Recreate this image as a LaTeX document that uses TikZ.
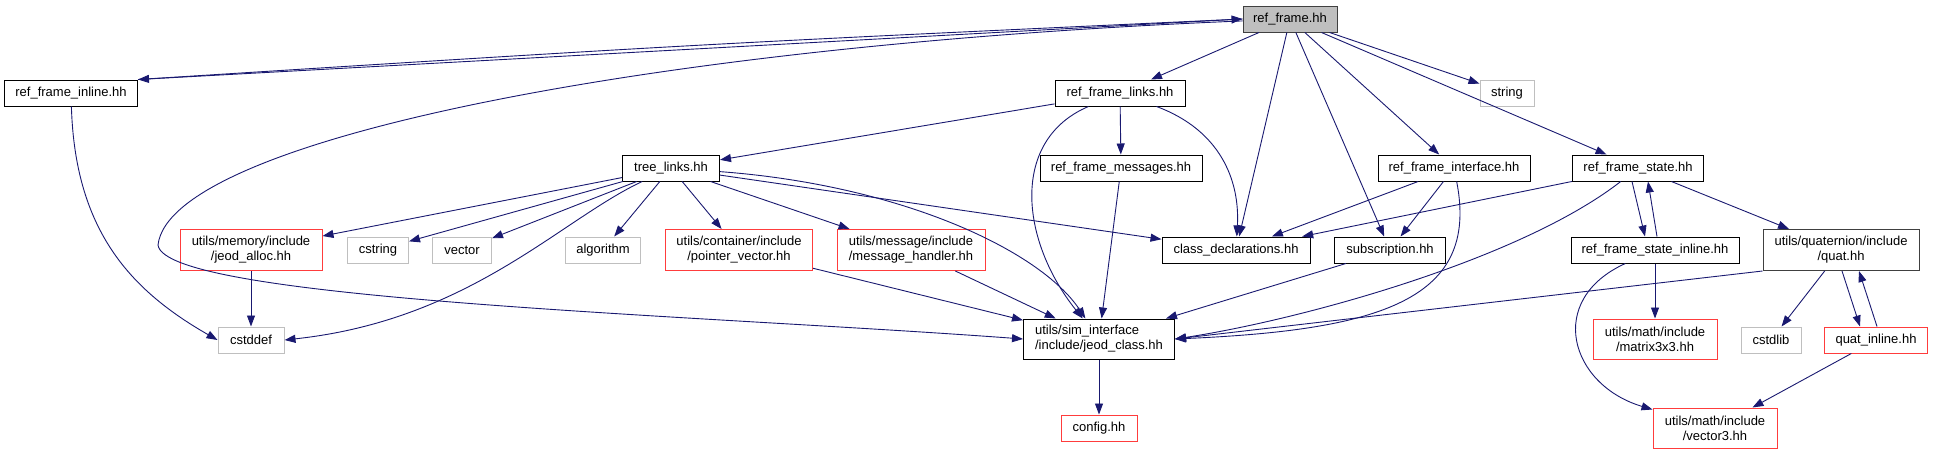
\documentclass[tikz,border=0pt]{standalone}
\usepackage{fontspec}
\setmainfont{Liberation Sans}
\usetikzlibrary{arrows.meta}
\definecolor{edgeblue}{RGB}{25,25,112}
\definecolor{truncred}{RGB}{255,60,60}
\definecolor{sysgray}{RGB}{191,191,191}
\begin{document}
\begin{tikzpicture}[x=1pt,y=-1pt,
    hdr/.style={draw=black,line width=1pt,align=center,inner sep=0pt,minimum height=26,font=\fontsize{13}{15}\selectfont},
    sys/.style={hdr,draw=sysgray},
    trunc/.style={hdr,draw=truncred},
    dep/.style={draw=edgeblue,line width=0.9pt,-{Triangle[length=11pt,width=8pt]}}]
\useasboundingbox (0,0) rectangle (1933,455);
% headers
    \node[hdr,fill=sysgray,draw=black!75,minimum width=94] (rf) at (1290,19) {ref\_frame.hh};
    \foreach \n/\x/\y/\w/\t in {rfi/71/93/133/{ref\_frame\_inline.hh},rfl/1120/93/130/{ref\_frame\_links.hh},
        tl/671/168/97/{tree\_links.hh},rfm/1121/168/162/{ref\_frame\_messages.hh},
        rfint/1454/168/152/{ref\_frame\_interface.hh},rfs/1638/168/131/{ref\_frame\_state.hh},
        cdecl/1236/250/148/{class\_declarations.hh},subs/1390/250/111/{subscription.hh},
        rfsi/1655/250/168/{ref\_frame\_state\_inline.hh}}{
        \node[hdr,minimum width=\w] (\n) at (\x,\y) {\t};
    }
    \node[hdr,draw=black!75,minimum width=156,minimum height=41] (quat) at (1841,250) {utils/quaternion/include\\/quat.hh};
    \node[hdr,align=left,minimum width=151,minimum height=40] (jclass) at (1099,339) {utils/sim\_interface\\/include/jeod\_class.hh};
% system headers
    \foreach \n/\x/\y/\w/\t in {str/1507/93/54/string,cstr/378/250/61/cstring,vec/462/250/59/vector,
        alg/603/250/75/algorithm,cstddef/251/340/66/cstddef,cstdlib/1771/340/60/cstdlib}{
        \node[sys,minimum width=\w] (\n) at (\x,\y) {\t};
    }
% truncated headers
    \foreach \n/\x/\y/\w/\h/\t in {jalloc/251/250/142/41/{utils/memory/include\\/jeod\_alloc.hh},
        pvec/739/250/147/41/{utils/container/include\\/pointer\_vector.hh},
        msgh/911/250/148/41/{utils/message/include\\/message\_handler.hh},
        matrix/1655/339/124/40/{utils/math/include\\/matrix3x3.hh},
        qinl/1876/340/103/26/{quat\_inline.hh},config/1099/428/76/26/{config.hh},
        vec3/1715/428/124/40/{utils/math/include\\/vector3.hh}}{
        \node[trunc,minimum width=\w,minimum height=\h] (\n) at (\x,\y) {\t};
    }
% includes
    \foreach \a/\b in {rf/rfl,rf/cdecl,rf/subs,rf/rfint,rf/rfs,rf/str,rfl/tl,rfl/rfm,
        tl/jalloc,tl/cstr,tl/vec,tl/alg,tl/pvec,tl/msgh,tl/cdecl,jalloc/cstddef,
        pvec/jclass,msgh/jclass,rfm/jclass,rfint/cdecl,rfint/subs,subs/jclass,
        rfs/cdecl,rfs/quat,rfsi/matrix,quat/cstdlib,qinl/vec3,jclass/config}{
        \draw[dep] (\a) -- (\b);
    }
    \draw[dep] (rf.west) -- (rfi.north east);
    \draw[dep] (rfi.north east) .. controls (700,44) .. (rf.west);
    \draw[dep] (rf) .. controls (650,45) and (170,140) .. (158,245) .. controls (165,300) and (700,315) .. (jclass.west);
    \draw[dep] (rfi) .. controls (75,230) and (130,290) .. (cstddef.west);
    \draw[dep] (tl) .. controls (560,220) and (470,320) .. (cstddef.east);
    \draw[dep] (tl) .. controls (900,185) and (1040,250) .. (jclass);
    \draw[dep] (rfl) .. controls (1010,140) and (1020,240) .. (jclass);
    \draw[dep] (rfl) .. controls (1220,130) and (1240,180) .. (cdecl);
    \draw[dep] (rfint) .. controls (1480,300) and (1380,330) .. (jclass.east);
    \draw[dep] (rfs) .. controls (1520,260) and (1300,320) .. (jclass.east);
    \draw[dep] (quat.south west) -- (jclass.east);
    \draw[dep] (rfsi) .. controls (1545,300) and (1570,385) .. (vec3);
% both ways
    \draw[dep] ([xshift=-6pt]rfs.south) -- ([xshift=-10pt]rfsi.north);
    \draw[dep] ([xshift=2pt]rfsi.north) -- ([xshift=10pt]rfs.south);
    \draw[dep] ([xshift=1pt]quat.south) -- ([xshift=-16pt]qinl.north);
    \draw[dep] ([xshift=1pt]qinl.north) -- ([xshift=18pt]quat.south);
\end{tikzpicture}
\end{document}
